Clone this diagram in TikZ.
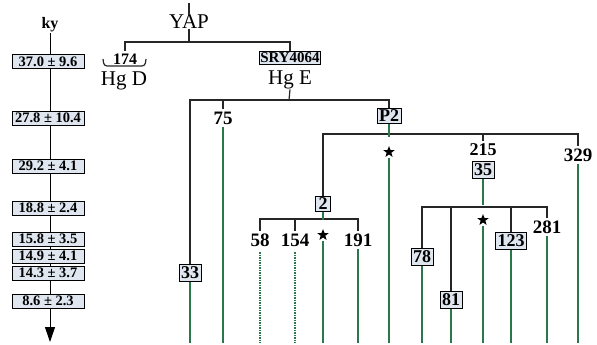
\documentclass[tikz,border=0pt]{standalone}
\usepackage{fontspec}
\setmainfont{Liberation Serif}
\usetikzlibrary{arrows.meta,shapes.geometric}
\definecolor{boxfill}{RGB}{223,230,239}
\definecolor{lineage}{RGB}{42,120,74}

\begin{document}
\begin{tikzpicture}[x=1pt, y=-1pt,
  tline/.style={line width=1.2pt, black!85},
  gline/.style={line width=2pt, lineage},
  dline/.style={line width=2pt, lineage, dash pattern=on 1.5pt off 1pt},
  num/.style={font=\bfseries\fontsize{19}{19}\selectfont, inner sep=0pt, outer sep=3pt},
  hg/.style={font=\fontsize{21}{21}\selectfont, inner sep=0pt},
  mbox/.style={draw, line width=1pt, fill=boxfill, inner sep=2pt, font=\bfseries\fontsize{18}{18}\selectfont},
  kybox/.style={draw, line width=1pt, fill=boxfill, minimum width=72pt, minimum height=14pt, inner sep=0pt, font=\bfseries\fontsize{14.5}{14.5}\selectfont},
  starmk/.style={star, star points=5, star point ratio=2.4, fill=black, inner sep=0pt, minimum size=12pt, outer sep=3pt}]
  \useasboundingbox (0,0) rectangle (597,345);
  \coordinate (bot) at (0,343);

  %% Age scale on the left
  \node[font=\bfseries\fontsize{16}{16}\selectfont, inner sep=1pt] (ky) at (50,25) {ky};
  \coordinate (kyend) at (50,342);
  \draw[line width=1pt, -{Triangle[width=10pt,length=15pt]}] (ky.south) -- (kyend);
  \foreach \i/\yy/\val in {1/62/37.0 ± 9.6, 2/118/27.8 ± 10.4, 3/166/29.2 ± 4.1, 4/208/18.8 ± 2.4,
                          5/239/15.8 ± 3.5, 6/256/14.9 ± 4.1, 7/273/14.3 ± 3.7, 8/301/8.6 ± 2.3}{
    \node[kybox] (age\i) at (48,\yy) {\val};
  }

  %% YAP root and Hg D / Hg E split
  \coordinate (root) at (189,3);
  \node[hg] (yap) at (189,22) {YAP};
  \coordinate (j0) at (189,42);
  \draw[tline] (root) -- (yap.north);
  \draw[tline] (yap.south) -- (j0);
  \node[num, font=\bfseries\fontsize{16}{16}\selectfont] (n174) at (125,59) {174};
  \draw[tline, rounded corners=3pt] (103,59) -- (104,66) -- (145,66) -- (146,59);
  \node[hg] (hgD) at (124,81) {Hg D};
  \node[mbox, font=\bfseries\fontsize{15}{15}\selectfont, inner sep=1.2pt] (sry) at (290,58) {SRY4064};
  \node[hg] (hgE) at (290,80) {Hg E};
  \draw[tline] (n174.north) |- (j0) -| (sry.north);

  %% Hg E lineages
  \coordinate (j1) at (289,100);
  \node[mbox] (b33) at (190,273) {33};
  \node[num] (n75) at (223,118) {75};
  \node[mbox] (p2) at (389,116) {P2};
  \draw[tline] (hgE.south) -- (j1);
  \draw[tline] (b33.north) |- (j1) -| (p2.north);
  \draw[tline] (n75.north) -- (n75.north |- j1);

  %% P2 split
  \coordinate (j2) at (389,134);
  \node[mbox, minimum width=15pt, inner sep=1.5pt] (b2) at (323,204) {2};
  \node[num, font=\bfseries\fontsize{18}{18}\selectfont] (n215) at (483,150) {215};
  \node[mbox] (b35) at (483,170) {35};
  \node[num] (n329) at (578,155) {329};
  \draw[tline] (b2.north) |- (j2) -| (n329.north);
  \draw[tline] (n215.north) -- (n215.north |- j2);
  \node[starmk] (st1) at (389,152) {};
  \node[starmk] (st2) at (483,220) {};
  \node[starmk] (st3) at (323,235) {};

  %% 35 split
  \coordinate (j3) at (483,207);
  \node[mbox] (b78) at (422,257) {78};
  \node[mbox] (b81) at (451,300) {81};
  \node[mbox] (b123) at (511,241) {123};
  \node[num] (n281) at (547,227) {281};
  \draw[tline] (b78.north) |- (j3) -| (n281.north);
  \foreach \n in {b81,b123}
    \draw[tline] (\n.north) -- (\n.north |- j3);

  %% 2 split
  \coordinate (j4) at (323,219);
  \node[num] (n58) at (260,240) {58};
  \node[num] (n154) at (295,240) {154};
  \node[num] (n191) at (358,240) {191};
  \draw[tline] (n58.north) |- (j4) -| (n191.north);
  \draw[tline] (n154.north) -- (n154.north |- j4);

  %% green lineages down to the present
  \draw[gline] (p2.south) -- (st1.north);
  \draw[gline] (b35.south) -- (st2.north);
  \draw[gline] (b2.south) -- (st3.north);
  \foreach \n in {b33,n75,n191,b78,b81,b123,n281,n329,st1,st2,st3}
    \draw[gline] (\n.south) -- (\n.south |- bot);
  \foreach \n in {n58,n154}
    \draw[dline, shorten <=3pt] (\n.south) -- (\n.south |- bot);
\end{tikzpicture}
\end{document}
